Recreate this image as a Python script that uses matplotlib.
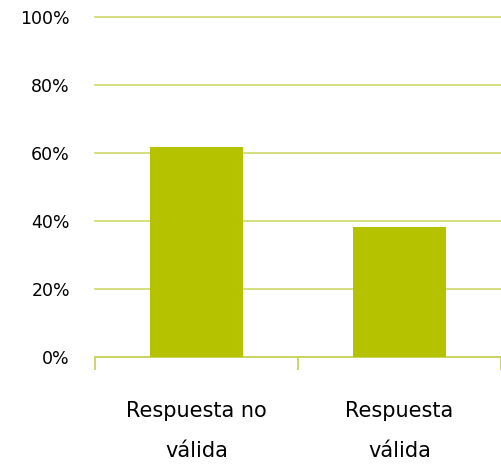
import matplotlib
matplotlib.use('Agg')
import matplotlib.pyplot as plt
import numpy as np

categories = ['Respuesta no\nválida', 'Respuesta\nválida']
values = [61.8, 38.2]
yticks = [0, 20, 40, 60, 80, 100]

bar_color = '#b5c200'
grid_color = '#d3dc78'
axis_color = '#c5d050'

fig = plt.figure(figsize=(5.02, 4.70), dpi=100)
ax = fig.add_axes([0.189, 0.2404, 0.809, 0.7234])

x = np.arange(len(categories))
ax.bar(x, values, width=0.46, color=bar_color, zorder=3)

ax.set_xlim(-0.5, len(categories) - 0.5)
ax.set_ylim(0, 100)
ax.set_yticks(yticks)
ax.set_yticklabels([f'{v}%' for v in yticks], fontsize=12.5)
ax.tick_params(axis='y', length=0, pad=18)
for v in yticks[1:]:
    ax.axhline(v, color=grid_color, linewidth=1.3, zorder=0, clip_on=False)

ax.set_xticks(x)
ax.set_xticklabels(categories, fontsize=15, linespacing=2.2)
ax.tick_params(axis='x', which='major', length=0, pad=32)
ax.set_xticks(np.arange(len(categories) + 1) - 0.5, minor=True)
ax.tick_params(axis='x', which='minor', length=9, width=1.2, color=axis_color)

for s in ['top', 'right', 'left']:
    ax.spines[s].set_visible(False)
ax.spines['bottom'].set_color(axis_color)
ax.spines['bottom'].set_linewidth(1.3)

fig.savefig('out.png', dpi=100)
